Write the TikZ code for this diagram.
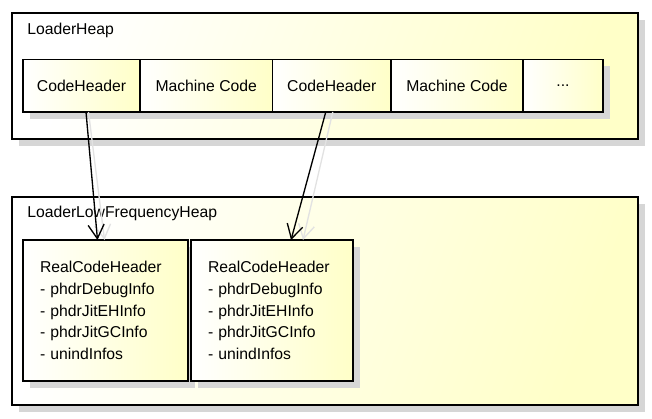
\documentclass[tikz,border=0pt]{standalone}
\usepackage{fontspec}
\setmainfont{Liberation Sans}
\usetikzlibrary{arrows.meta,calc,shadows,positioning}
\definecolor{paleyellow}{RGB}{255,255,200}
\definecolor{shadowgray}{RGB}{214,214,214}
\newdimen\pxu \pxu=0.75pt
\tikzset{
	heapbox/.style={draw, line width=1.1pt, anchor=north west, inner sep=0pt, outer sep=0pt,
		left color=white, right color=paleyellow, shading angle=70,
		drop shadow={shadow xshift=5.2pt, shadow yshift=-5.2pt, fill=shadowgray, opacity=1}},
	cell/.style={heapbox, line width=1pt, minimum height=52.5\pxu, text depth=0pt, shading angle=90},
	realbox/.style={heapbox, line width=1pt, minimum width=164\pxu, minimum height=141\pxu,
		align=left, text width=131\pxu, inner xsep=17\pxu, shading angle=90},
	heaplabel/.style={anchor=west, inner sep=0pt},
	ptr/.style={line width=1pt, -{Straight Barb[length=10.5pt, width=12pt]}},
	ptrshadow/.style={line width=1pt, draw=shadowgray!70, -{Straight Barb[length=10.5pt, width=12pt]}}
}
\begin{document}
\begin{tikzpicture}[x=0.75pt, y=-0.75pt, font=\fontsize{11.8}{16.3}\selectfont]
	\useasboundingbox (0,0) rectangle (652,418);
	% the two heaps
	\node[heapbox, minimum width=626\pxu, minimum height=126\pxu] (lh) at (12,13) {};
	\node[heapbox, minimum width=626\pxu, minimum height=208\pxu] (lfh) at (12,197) {};
	\node[heaplabel] (lhname) at (27,30) {LoaderHeap};
	\node[heaplabel] (lfhname) at (27,213) {LoaderLowFrequencyHeap};
%
	\node[cell, minimum width=117\pxu] (ch1) at (23,59.5) {CodeHeader};
	\node[cell, minimum width=132.5\pxu, right=0pt of ch1] (mc1) {Machine Code};
	\node[cell, minimum width=118.5\pxu, right=0pt of mc1] (ch2) {CodeHeader};
	\node[cell, minimum width=132\pxu, right=0pt of ch2] (mc2) {Machine Code};
	\node[cell, minimum width=80\pxu, right=0pt of mc2] (more) {...};
%
	\node[realbox] (rch1) at (23,240) {RealCodeHeader\\- phdrDebugInfo\\- phdrJitEHInfo\\- phdrJitGCInfo\\- unindInfos};
	\node[realbox, minimum width=161\pxu, text width=128\pxu] (rch2) at (191,240) {RealCodeHeader\\- phdrDebugInfo\\- phdrJitEHInfo\\- phdrJitGCInfo\\- unindInfos};
%
	\draw[ptrshadow] ([xshift=7\pxu]ch1.south) -- ([xshift=-1\pxu]rch1.north);
	\draw[ptrshadow] ([xshift=1\pxu]ch2.south) -- ([xshift=31\pxu]rch2.north);
	\draw[ptr] ([xshift=4.5\pxu]ch1.south) -- ([xshift=-8\pxu]rch1.north);
	\draw[ptr] ([xshift=-6\pxu]ch2.south) -- ([xshift=19\pxu]rch2.north);
\end{tikzpicture}
\end{document}
